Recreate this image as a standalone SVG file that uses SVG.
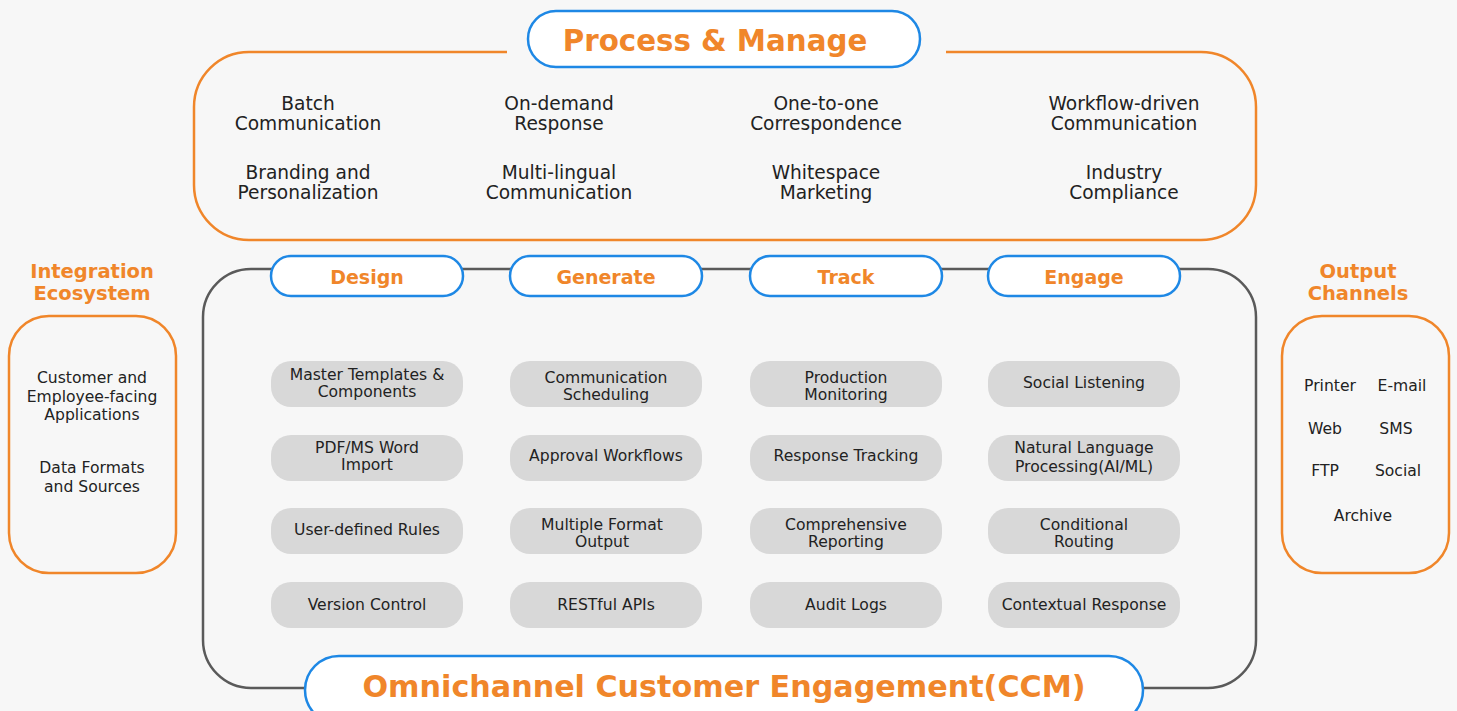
<svg xmlns="http://www.w3.org/2000/svg" width="1457" height="711" viewBox="0 0 1457 711">
<style>
.t{font-family:"DejaVu Sans","Liberation Sans",sans-serif;fill:#222;text-anchor:middle}
.big{font-size:18.6px}
.sm{font-size:15.6px}
.h{font-family:"DejaVu Sans","Liberation Sans",sans-serif;font-weight:bold;fill:#f0862a;text-anchor:middle}
.pill{fill:#fff;stroke:#1e88e5;stroke-width:2.5}
.item{fill:#d8d8d8}
.obox{fill:none;stroke:#f0862a;stroke-width:2.5}
</style>
<rect width="1457" height="711" fill="#f7f7f7"/>

<g id="connectors">
<path d="M507 52 H249 A55 55 0 0 0 194 107 V185 A55 55 0 0 0 249 240 H1201 A55 55 0 0 0 1256 185 V107 A55 55 0 0 0 1201 52 H946" fill="none" stroke="#f0862a" stroke-width="2.5"/>
<rect x="203" y="269" width="1053" height="419" rx="48" fill="none" stroke="#5a5a5a" stroke-width="2.5"/>
</g>

<g id="process-manage">
<rect class="pill" x="528" y="11" width="392" height="56" rx="28"/>
<text class="h" x="715" y="51" font-size="29.3">Process &amp; Manage</text>
<text class="t big" x="308" y="110">Batch<tspan x="308" dy="20">Communication</tspan></text>
<text class="t big" x="559" y="110">On-demand<tspan x="559" dy="20">Response</tspan></text>
<text class="t big" x="826" y="110">One-to-one<tspan x="826" dy="20">Correspondence</tspan></text>
<text class="t big" x="1124" y="110">Workflow-driven<tspan x="1124" dy="20">Communication</tspan></text>
<text class="t big" x="308" y="179">Branding and<tspan x="308" dy="20">Personalization</tspan></text>
<text class="t big" x="559" y="179">Multi-lingual<tspan x="559" dy="20">Communication</tspan></text>
<text class="t big" x="826" y="179">Whitespace<tspan x="826" dy="20">Marketing</tspan></text>
<text class="t big" x="1124" y="179">Industry<tspan x="1124" dy="20">Compliance</tspan></text>
</g>

<g id="tab-design"><rect class="pill" x="271" y="256" width="192" height="40" rx="20"/><text class="h" x="367" y="284" font-size="19">Design</text></g>
<g id="tab-generate"><rect class="pill" x="510" y="256" width="192" height="40" rx="20"/><text class="h" x="606" y="284" font-size="19">Generate</text></g>
<g id="tab-track"><rect class="pill" x="750" y="256" width="192" height="40" rx="20"/><text class="h" x="846" y="284" font-size="19">Track</text></g>
<g id="tab-engage"><rect class="pill" x="988" y="256" width="192" height="40" rx="20"/><text class="h" x="1084" y="284" font-size="19">Engage</text></g>

<g id="items-design">
<rect class="item" x="271" y="361" width="192" height="46" rx="20"/>
<text class="t sm" x="367" y="379.5">Master Templates &amp;<tspan x="367" dy="17">Components</tspan></text>
<rect class="item" x="271" y="435" width="192" height="46" rx="20"/>
<text class="t sm" x="367" y="452.5">PDF/MS Word<tspan x="367" dy="17">Import</tspan></text>
<rect class="item" x="271" y="508" width="192" height="46" rx="20"/>
<text class="t sm" x="367" y="535">User-defined Rules</text>
<rect class="item" x="271" y="582" width="192" height="46" rx="20"/>
<text class="t sm" x="367" y="610">Version Control</text>
</g>

<g id="items-generate">
<rect class="item" x="510" y="361" width="192" height="46" rx="20"/>
<text class="t sm" x="606" y="382.5">Communication<tspan x="606" dy="17">Scheduling</tspan></text>
<rect class="item" x="510" y="435" width="192" height="46" rx="20"/>
<text class="t sm" x="606" y="461">Approval Workflows</text>
<rect class="item" x="510" y="508" width="192" height="46" rx="20"/>
<text class="t sm" x="602" y="529.5">Multiple Format<tspan x="602" dy="17">Output</tspan></text>
<rect class="item" x="510" y="582" width="192" height="46" rx="20"/>
<text class="t sm" x="606" y="610">RESTful APIs</text>
</g>

<g id="items-track">
<rect class="item" x="750" y="361" width="192" height="46" rx="20"/>
<text class="t sm" x="846" y="382.5">Production<tspan x="846" dy="17">Monitoring</tspan></text>
<rect class="item" x="750" y="435" width="192" height="46" rx="20"/>
<text class="t sm" x="846" y="461">Response Tracking</text>
<rect class="item" x="750" y="508" width="192" height="46" rx="20"/>
<text class="t sm" x="846" y="529.5">Comprehensive<tspan x="846" dy="17">Reporting</tspan></text>
<rect class="item" x="750" y="582" width="192" height="46" rx="20"/>
<text class="t sm" x="846" y="610">Audit Logs</text>
</g>

<g id="items-engage">
<rect class="item" x="988" y="361" width="192" height="46" rx="20"/>
<text class="t sm" x="1084" y="388">Social Listening</text>
<rect class="item" x="988" y="435" width="192" height="46" rx="20"/>
<text class="t sm" x="1084" y="453">Natural Language<tspan x="1084" dy="19">Processing(AI/ML)</tspan></text>
<rect class="item" x="988" y="508" width="192" height="46" rx="20"/>
<text class="t sm" x="1084" y="529.5">Conditional<tspan x="1084" dy="17">Routing</tspan></text>
<rect class="item" x="988" y="582" width="192" height="46" rx="20"/>
<text class="t sm" x="1084" y="610">Contextual Response</text>
</g>

<g id="integration">
<text class="h" x="92" y="278" font-size="19.5">Integration<tspan x="92" dy="22">Ecosystem</tspan></text>
<rect class="obox" x="9" y="316" width="167" height="257" rx="40"/>
<text class="t sm" x="92" y="383">Customer and<tspan x="92" dy="18.5">Employee-facing</tspan><tspan x="92" dy="18.5">Applications</tspan></text>
<text class="t sm" x="92" y="473">Data Formats<tspan x="92" dy="19">and Sources</tspan></text>
</g>

<g id="output">
<text class="h" x="1358" y="278" font-size="19.5">Output<tspan x="1358" dy="22">Channels</tspan></text>
<rect class="obox" x="1282" y="316" width="167" height="257" rx="40"/>
<text class="t sm" x="1330" y="391">Printer</text>
<text class="t sm" x="1402" y="391">E-mail</text>
<text class="t sm" x="1325" y="434">Web</text>
<text class="t sm" x="1396" y="434">SMS</text>
<text class="t sm" x="1325" y="476">FTP</text>
<text class="t sm" x="1398" y="476">Social</text>
<text class="t sm" x="1363" y="521">Archive</text>
</g>

<g id="ccm">
<rect class="pill" x="305" y="656" width="838" height="68" rx="34"/>
<text class="h" x="724" y="697" font-size="30.2">Omnichannel Customer Engagement(CCM)</text>
</g>
</svg>
